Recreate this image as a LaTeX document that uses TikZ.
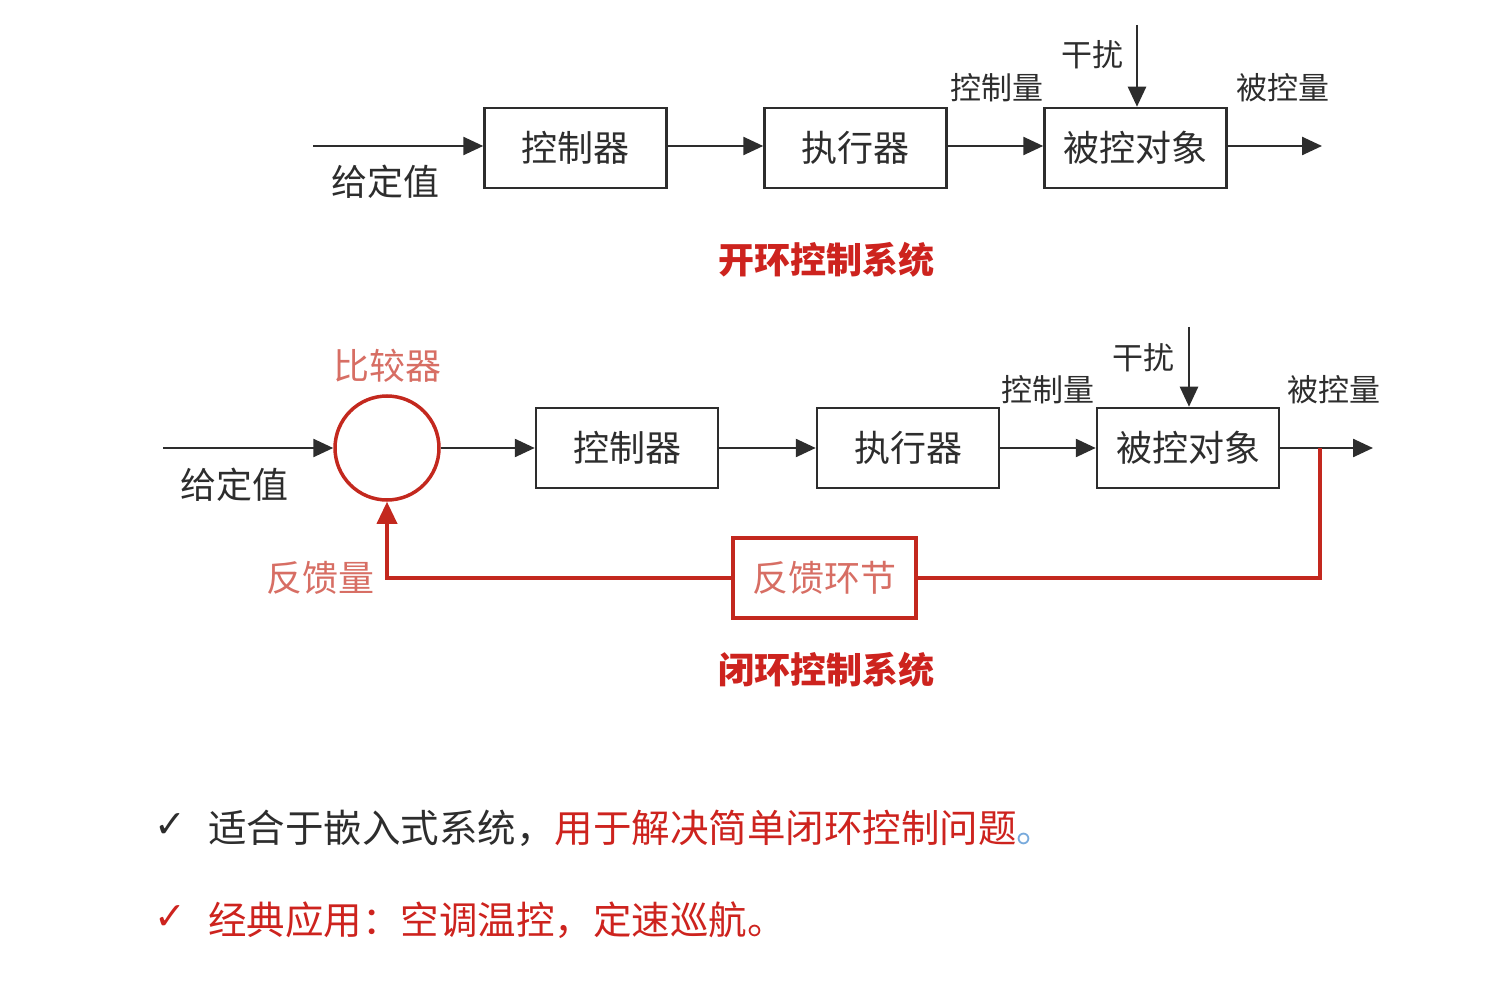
\documentclass[tikz,border=0pt]{standalone}
\usepackage{fontspec}
\setmainfont{Noto Sans CJK SC}
\newfontfamily\symfont{DejaVu Sans}
\usetikzlibrary{positioning,arrows.meta}
\definecolor{txtgray}{RGB}{45,45,45}
\definecolor{titlered}{RGB}{205,35,30}
\definecolor{loopred}{RGB}{195,40,30}
\definecolor{lightred}{RGB}{215,110,100}
\definecolor{dotblue}{RGB}{120,170,220}
\newcommand{\bigfont}{\fontsize{36}{40}\selectfont}
\newcommand{\labfont}{\fontsize{31}{34}\selectfont}
\tikzset{
	blk/.style={draw=txtgray,line width=2.5pt,minimum width=182pt,minimum height=80pt,inner sep=0pt,text=txtgray,font=\bigfont},
	sig/.style={line width=2.5pt,draw=txtgray,-{Triangle[length=20pt,width=18pt]}},
	lab/.style={text=txtgray,font=\labfont,inner sep=0pt},
	fb/.style={line width=3.5pt,draw=loopred},
}
\begin{document}
\begin{tikzpicture}[x=1pt,y=-1pt]
		\useasboundingbox (0,0) rectangle (1492,984);
		% open loop
		\coordinate (in1) at (313,146);
		\node[blk] (ctrl1) at (575.5,148) {控制器};
		\node[blk] (act1) [right=95.5pt of ctrl1] {执行器};
		\node[blk] (plant1) [right=95.5pt of act1] {被控对象};
		\coordinate (out1) at (1322,146);
		\coordinate (dist1) at (1137,25);
		\draw[sig] (in1) -- (in1 -| ctrl1.west);
		\draw[sig] (ctrl1.east |- in1) -- (act1.west |- in1);
		\draw[sig] (act1.east |- in1) -- (plant1.west |- in1);
		\draw[sig] (plant1.east |- in1) -- (out1);
		\draw[sig] (dist1) -- (dist1 |- plant1.north);
		\node[lab,font=\bigfont] (ref1) at (385,182) {给定值};
		\node[lab] (u1) at (997,88) {控制量};
		\node[lab] (d1) at (1092,55) {干扰};
		\node[lab] (y1) at (1283,88) {被控量};
		\node[text=titlered,font=\bigfont\bfseries] (title1) at (826,260) {开环控制系统};
		% closed loop
		\coordinate (in2) at (163,448);
		\node[draw=loopred,line width=3.5pt,circle,minimum size=104pt,inner sep=0pt] (cmp) at (387,448) {};
		\node[blk] (ctrl2) [right=94pt of cmp] {控制器};
		\node[blk] (act2) [right=96.5pt of ctrl2] {执行器};
		\node[blk] (plant2) [right=95.5pt of act2] {被控对象};
		\coordinate (out2) at (1373,448);
		\coordinate (tap) at (1320,448);
		\coordinate (dist2) at (1189,327);
		\node[draw=loopred,line width=3.5pt,minimum width=183pt,minimum height=80pt,inner sep=0pt,text=lightred,font=\bigfont] (fbk) at (824.5,578) {反馈环节};
		\draw[sig] (in2) -- (cmp.west);
		\draw[sig] (cmp.east) -- (ctrl2.west);
		\draw[sig] (ctrl2.east) -- (act2.west);
		\draw[sig] (act2.east) -- (plant2.west);
		\draw[sig] (plant2.east) -- (out2);
		\draw[sig] (dist2) -- (dist2 |- plant2.north);
		\draw[fb] (tap) |- (fbk.east);
		\draw[fb,-{Triangle[length=22pt,width=20pt]}] (fbk.west) -| (cmp.south);
		\node[lab,font=\bigfont] (ref2) at (234,485) {给定值};
		\node[lab,text=lightred,font=\bigfont] (cmpname) at (387,366) {比较器};
		\node[lab,text=lightred,font=\bigfont] (fbq) at (320,578) {反馈量};
		\node[lab] (u2) at (1048,390) {控制量};
		\node[lab] (d2) at (1143,358) {干扰};
		\node[lab] (y2) at (1334,390) {被控量};
		\node[text=titlered,font=\bigfont\bfseries] (title2) at (826,670) {闭环控制系统};
		% notes
		\node[text=txtgray,font=\symfont\fontsize{38}{40}\selectfont] (tick1) at (170,826) {✓};
		\node[anchor=west,inner sep=0pt,text=txtgray,font=\fontsize{38.5}{42}\selectfont] (note1) at (208,828) {适合于嵌入式系统，\textcolor{titlered}{用于解决简单闭环控制问题}\textcolor{dotblue}{。}};
		\node[text=titlered,font=\symfont\fontsize{38}{40}\selectfont] (tick2) at (170,918) {✓};
		\node[anchor=west,inner sep=0pt,text=titlered,font=\fontsize{38.5}{42}\selectfont] (note2) at (208,920) {经典应用：空调温控，定速巡航。};
	\end{tikzpicture}
\end{document}
